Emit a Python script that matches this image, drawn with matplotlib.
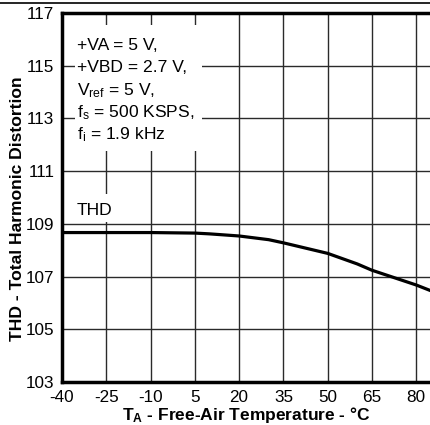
import numpy as np
import matplotlib.pyplot as plt
from matplotlib.patches import Rectangle
from matplotlib.lines import Line2D

plt.rcParams['font.family'] = ['Liberation Sans', 'DejaVu Sans']
plt.rcParams['mathtext.fontset'] = 'custom'
plt.rcParams['mathtext.rm'] = 'Liberation Sans'
plt.rcParams['mathtext.it'] = 'Liberation Sans:italic'
plt.rcParams['mathtext.bf'] = 'Liberation Sans:bold'
plt.rcParams['axes.unicode_minus'] = False

# THD vs temperature
temp = [-40, -25, -10, 5, 10, 20, 30, 35, 50, 60, 65, 80, 85]
thd = [108.67, 108.67, 108.67, 108.65, 108.62, 108.54, 108.40, 108.28, 107.88, 107.48, 107.24, 106.68, 106.46]

xticks = [-40, -25, -10, 5, 20, 35, 50, 65, 80]
yticks = [103, 105, 107, 109, 111, 113, 115, 117]

conditions = ["+VA = 5 V,", "+VBD = 2.7 V,", r"V$_{\rm ref}$ = 5 V,",
              r"f$_{\rm s}$ = 500 KSPS,", r"f$_{\rm i}$ = 1.9 kHz"]

fig = plt.figure(figsize=(4.31, 4.25), dpi=100)
ax = fig.add_axes([62/431, 43/425, 369/431, 369/425])

ax.plot(temp, thd, color='black', lw=2.3, zorder=4, solid_capstyle='butt')

ax.set_xlim(-40, 85)
ax.set_ylim(103, 117)
ax.set_xticks(xticks)
ax.set_yticks(yticks)
ax.tick_params(length=0, labelsize=12.3, colors='black')
ax.tick_params(axis='x', pad=5.5)
ax.tick_params(axis='y', pad=5.5)
ax.grid(True, color='#2a2a2a', lw=1.0)
ax.set_axisbelow(True)
for s in ['left', 'bottom', 'top']:
    ax.spines[s].set_linewidth(2.5)
ax.spines['right'].set_linewidth(1.2)

# white boxes behind the annotations
def px2data(px, py):
    return -40 + (px - 62) / 369 * 125, 117 - (py - 13) / 369 * 14

x0, y0 = px2data(75, 151)
x1, y1 = px2data(202, 25)
ax.add_patch(Rectangle((x0, y0), x1 - x0, y1 - y0, fc='white', ec='none', zorder=2))
x0, y0 = px2data(72, 222)
x1, y1 = px2data(122, 194)
ax.add_patch(Rectangle((x0, y0), x1 - x0, y1 - y0, fc='white', ec='none', zorder=2))

baselines = [50, 72, 95, 117, 139]
for txt, b in zip(conditions, baselines):
    x, y = px2data(77, b)
    ax.text(x, y, txt, fontsize=12.6, va='baseline', ha='left', zorder=3)
x, y = px2data(77, 215)
ax.text(x, y, "THD", fontsize=12.6, va='baseline', ha='left', zorder=3)

ax.set_xlabel(r"$\mathbf{T_A}$ - Free-Air Temperature - °C", fontsize=12.5,
              fontweight='bold', labelpad=0)
ax.set_ylabel("THD - Total Harmonic Distortion", fontsize=12.6, fontweight='bold')
ax.yaxis.set_label_coords(-0.100, 0.469)

fig.add_artist(Line2D([0, 1], [1 - 3/425, 1 - 3/425], color='black', lw=1.2))

fig.savefig("out.png", dpi=100)
